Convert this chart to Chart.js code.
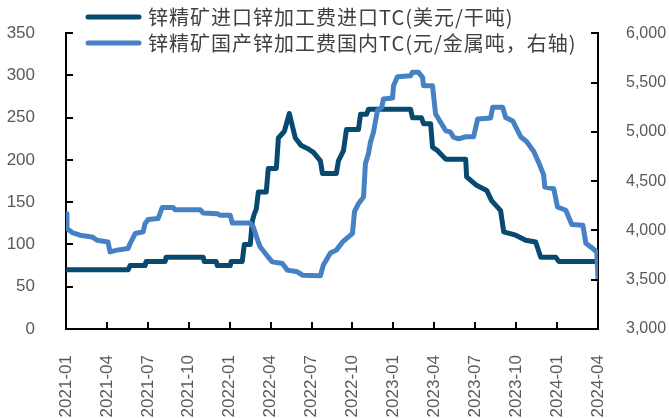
<!DOCTYPE html>
<html>
<head>
<meta charset="utf-8">
<script src="https://cdn.jsdelivr.net/npm/chart.js@4.4.1/dist/chart.umd.min.js"></script>
<style>
html,body{margin:0;padding:0;background:#fff;}
#wrap{width:669px;height:418px;position:relative;}
</style>
</head>
<body>
<div id="wrap"><canvas id="c" width="669" height="418"></canvas></div>
<script>
// x values: months elapsed since 2021-01
const xTickLabels = ['2021-01','2021-04','2021-07','2021-10','2022-01','2022-04','2022-07','2022-10','2023-01','2023-04','2023-07','2023-10','2024-01','2024-04'];
const seriesNames = ['锌精矿进口锌加工费进口TC(美元/干吨)', '锌精矿国产锌加工费国内TC(元/金属吨，右轴)'];

const importX = [0,4.55,4.70,5.80,5.87,7.27,7.34,10.06,10.13,11.01,11.09,12.04,12.11,12.92,13.07,13.51,13.66,13.80,13.95,14.10,14.68,14.83,15.42,15.57,16.01,16.37,16.81,17.25,17.77,18.14,18.65,18.80,19.82,19.97,20.34,20.56,21.44,21.59,22.03,22.17,25.26,25.40,26.06,26.21,26.73,26.87,27.24,27.83,29.30,29.37,30.10,30.84,31.20,31.86,32.09,32.97,33.70,34.43,34.80,35.90,36.12,39.0];
const importTC = [70,70,75,75,80,80,85,85,80,80,75,75,80,80,100,100,128,136,142,162,162,190,190,226,234,255,226,217,213,209,199,184,184,199,211,236,236,254,254,260,260,250,250,243,243,215,211,201,201,180,170,164,152,140,115,111,105,103,85,85,80,80];

const domesticX = [0,0.07,0.51,1.03,1.91,2.28,3.08,3.23,3.74,4.55,4.70,5.07,5.65,5.80,6.02,6.75,7.05,7.86,8.00,9.84,10.06,11.09,11.31,12.04,12.19,13.51,13.73,14.10,14.24,14.76,15.12,15.86,16.23,16.96,17.33,18.65,18.87,19.38,19.82,20.26,20.70,21.00,21.15,21.44,21.81,21.95,22.17,22.32,22.54,22.83,23.15,23.27,23.94,24.01,24.30,25.26,25.40,25.84,26.14,26.21,26.87,27.09,27.46,27.83,28.19,28.41,28.78,29.30,29.88,30.18,31.13,31.28,32.01,32.23,32.75,33.33,33.77,34.29,34.65,35.02,35.10,35.76,36.03,36.64,37.08,37.89,38.11,38.62,38.91,39.0];
const domesticTC = [4170,4018,3974,3951,3934,3900,3883,3782,3800,3816,3867,3968,3985,4069,4110,4120,4231,4231,4210,4210,4177,4170,4153,4153,4075,4075,4035,3880,3832,3740,3681,3664,3597,3580,3546,3540,3650,3770,3800,3880,3934,3968,4190,4271,4338,4676,4777,4894,4996,5215,5249,5333,5343,5468,5559,5569,5603,5603,5552,5468,5468,5182,5097,5013,4996,4945,4929,4950,4950,5131,5141,5249,5249,5145,5110,4950,4900,4800,4690,4560,4439,4423,4237,4204,4060,4052,3870,3816,3780,3500];

const leftTicks = {min:0, max:350, step:50};
const rightTicks = {min:3000, max:6000, step:500};

const colDark = '#07496F';
const colLight = '#4581C3';
const tickFont = {family:'"Liberation Sans", Arial, sans-serif', size:17};
const tickFontRight = {family:'"Liberation Sans", Arial, sans-serif', size:16};
const tickColor = '#595959';

const toPts = (xs, ys) => xs.map((x,i)=>({x:x, y:ys[i]}));

const insideTicks = {
  id:'insideTicks',
  afterDraw(chart){
    const ctx = chart.ctx, a = chart.chartArea;
    ctx.save();
    ctx.strokeStyle = '#000';
    ctx.lineWidth = 2;
    const L = 7;
    const yl = chart.scales.y, yr = chart.scales.y2, xs = chart.scales.x;
    ctx.beginPath();
    yl.ticks.forEach(t=>{const p=Math.round(yl.getPixelForValue(t.value)); ctx.moveTo(a.left,p); ctx.lineTo(a.left+L,p);});
    yr.ticks.forEach(t=>{const p=Math.round(yr.getPixelForValue(t.value)); ctx.moveTo(a.right,p); ctx.lineTo(a.right-L,p);});
    xs.ticks.forEach(t=>{const p=Math.round(xs.getPixelForValue(t.value)); ctx.moveTo(p,a.bottom); ctx.lineTo(p,a.bottom-L);});
    ctx.stroke();
    ctx.restore();
  }
};

const legendPlugin = {
  id:'customLegend',
  afterDraw(chart){
    const ctx = chart.ctx;
    ctx.save();
    const rows = [
      {ds: chart.data.datasets[0], y: 17},
      {ds: chart.data.datasets[1], y: 43}
    ];
    ctx.font = '20px "Noto Sans CJK SC", sans-serif';
    try { ctx.letterSpacing = '1px'; } catch(e) {}
    ctx.textBaseline = 'middle';
    ctx.textAlign = 'left';
    rows.forEach(r=>{
      ctx.strokeStyle = r.ds.borderColor;
      ctx.lineWidth = 5;
      ctx.lineCap = 'round';
      ctx.beginPath();
      ctx.moveTo(88, r.y); ctx.lineTo(139, r.y);
      ctx.stroke();
      ctx.fillStyle = '#404040';
      ctx.fillText(r.ds.label, 148, r.y);
    });
    ctx.restore();
  }
};

new Chart(document.getElementById('c'), {
  type:'line',
  data:{
    datasets:[
      {label:seriesNames[0], data:toPts(importX, importTC), yAxisID:'y', borderColor:colDark, backgroundColor:colDark, borderWidth:5, pointRadius:0, tension:0, borderJoinStyle:'round', borderCapStyle:'round', order:1},
      {label:seriesNames[1], data:toPts(domesticX, domesticTC), yAxisID:'y2', borderColor:colLight, backgroundColor:colLight, borderWidth:5, pointRadius:0, tension:0, borderJoinStyle:'round', borderCapStyle:'round', order:0}
    ]
  },
  options:{
    responsive:false,
    animation:false,
    events:[],
    layout:{padding:{top:32,left:0,right:0,bottom:0}},
    plugins:{legend:{display:false}, tooltip:{enabled:false}},
    scales:{
      x:{
        type:'linear', min:0, max:39,
        grid:{display:false},
        border:{display:true, color:'#000', width:2},
        ticks:{stepSize:3, autoSkip:false, minRotation:90, maxRotation:90, padding:18, color:tickColor, font:tickFont,
          callback:(v)=> xTickLabels[Math.round(v/3)]},
        afterFit:(s)=>{s.height = 89;}
      },
      y:{
        position:'left', min:leftTicks.min, max:leftTicks.max,
        grid:{display:false},
        border:{display:true, color:'#000', width:2},
        ticks:{stepSize:leftTicks.step, padding:23, color:tickColor, font:tickFont},
        afterFit:(s)=>{s.width = 66;}
      },
      y2:{
        position:'right', min:rightTicks.min, max:rightTicks.max,
        grid:{display:false},
        border:{display:true, color:'#000', width:2},
        ticks:{stepSize:rightTicks.step, padding:20, color:tickColor, font:tickFontRight,
          callback:(v)=> v.toLocaleString('en-US')},
        afterFit:(s)=>{s.width = 71;}
      }
    }
  },
  plugins:[insideTicks, legendPlugin]
});
</script>
</body>
</html>
